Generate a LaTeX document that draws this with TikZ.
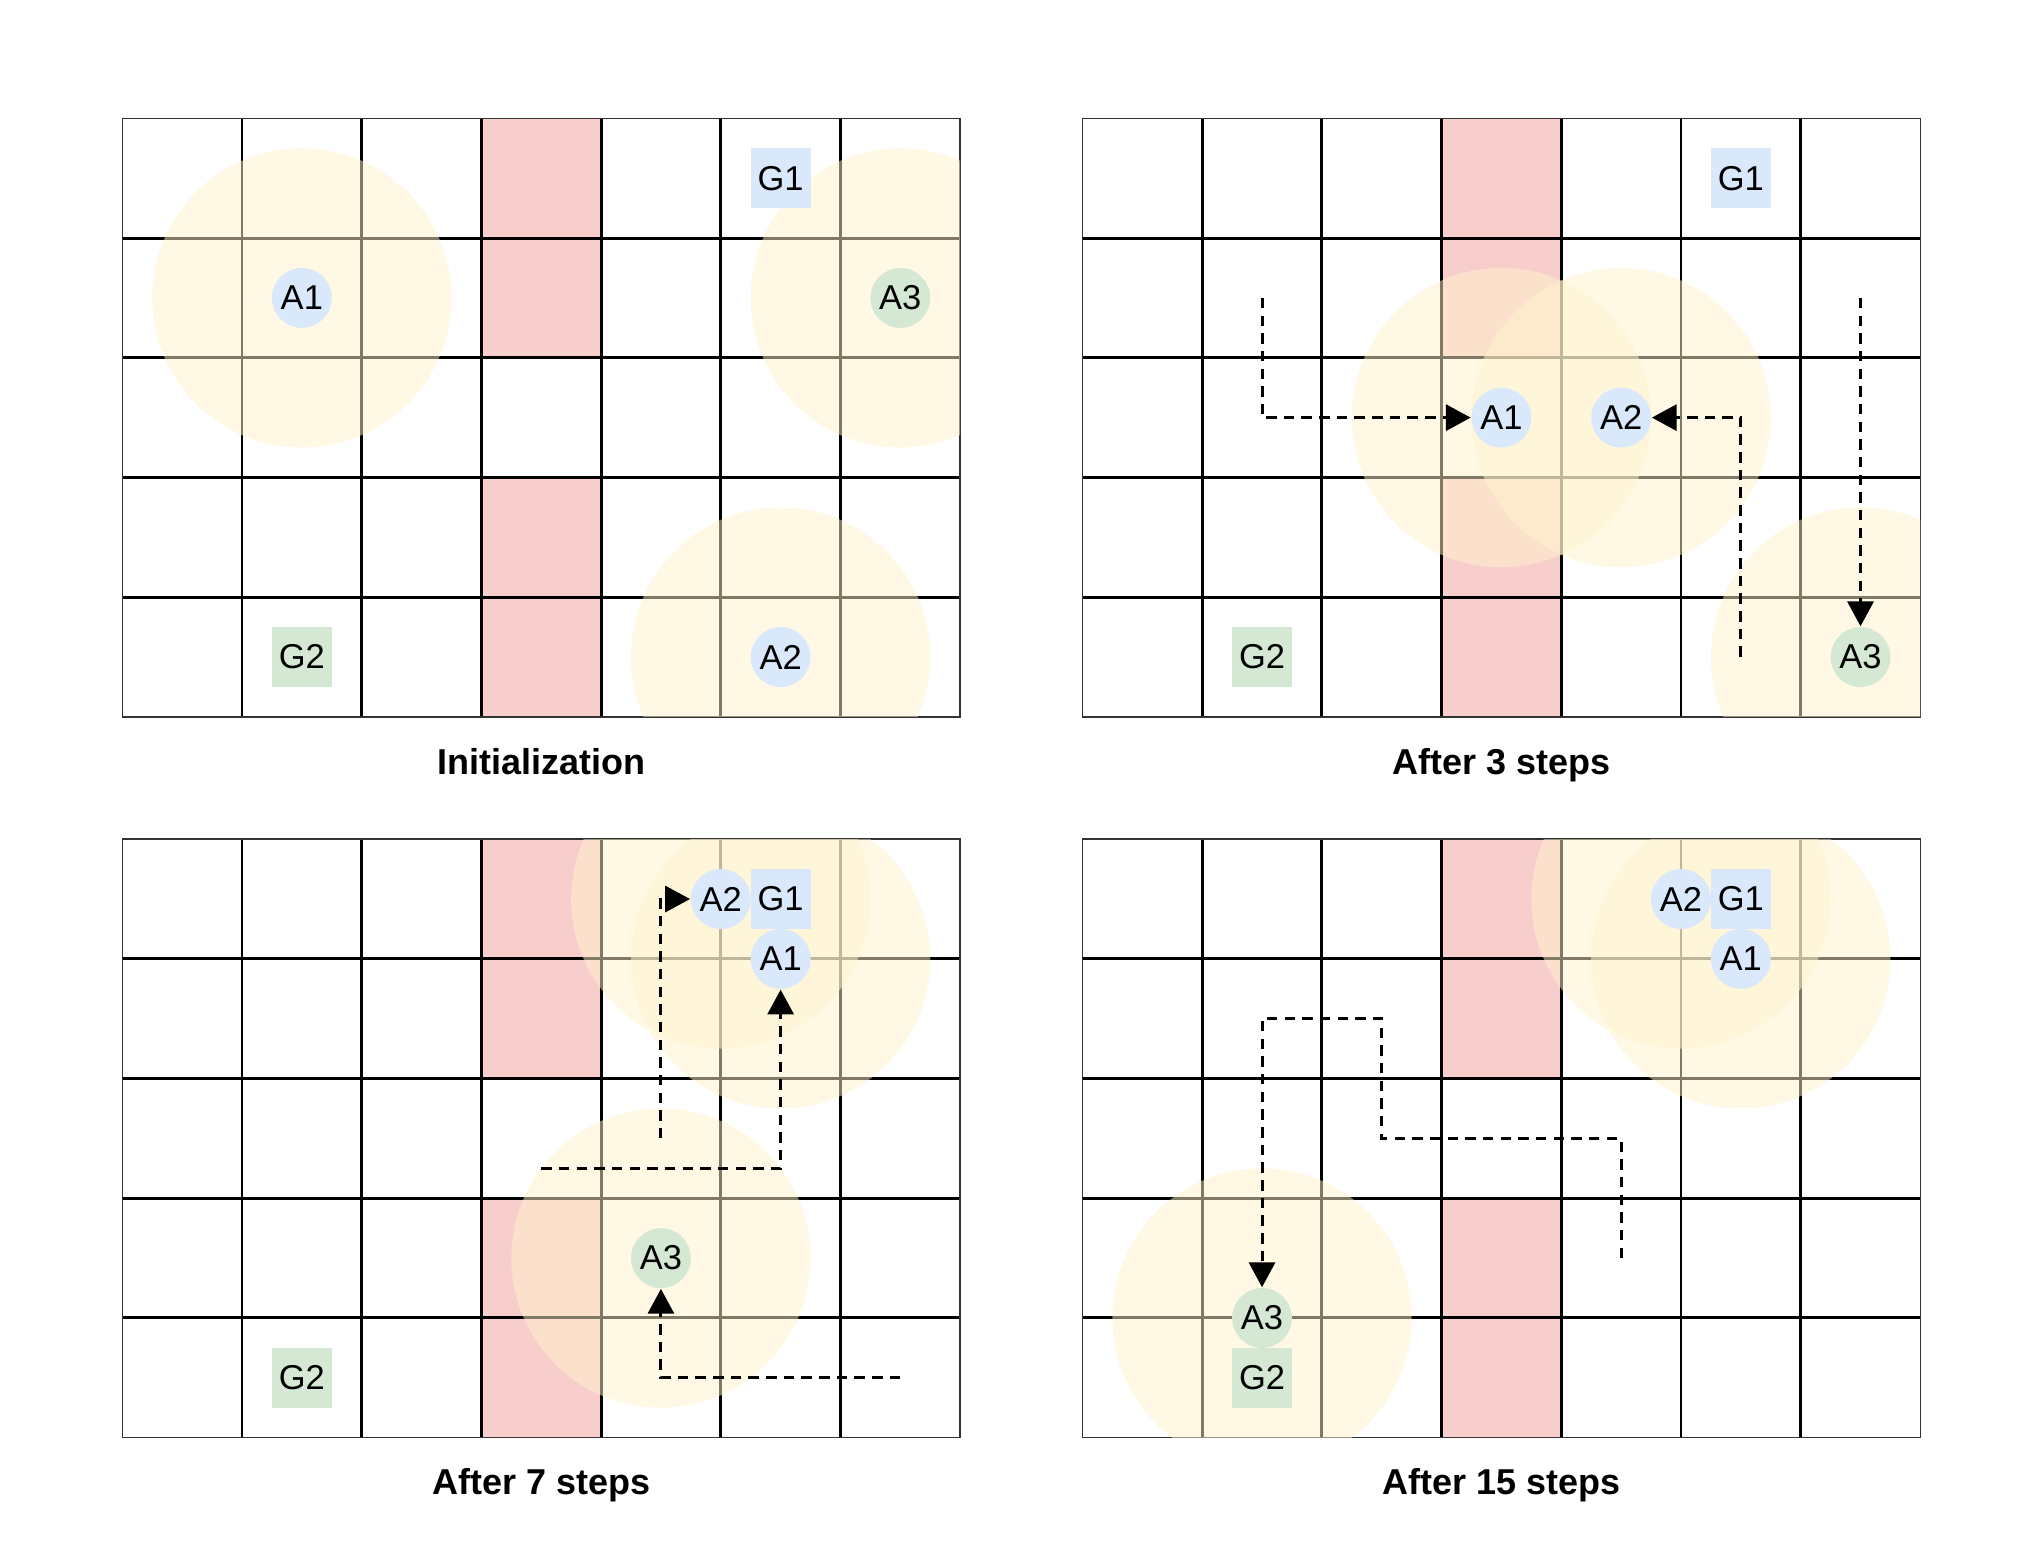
\documentclass[tikz,border=0pt]{standalone}
\usepackage{fontspec}
\setmainfont{Liberation Sans}
\usetikzlibrary{arrows.meta}
\definecolor{obst}{HTML}{F8CECC}
\definecolor{fov}{HTML}{FFF2CC}
\definecolor{agblue}{HTML}{DAE8FC}
\definecolor{aggreen}{HTML}{D5E8D4}
\tikzset{
  agent/.style={circle, minimum size=0.5cm, inner sep=0pt, font=\fontsize{8.2}{9}\selectfont},
  goal/.style={rectangle, minimum size=0.5cm, inner sep=0pt, font=\fontsize{8.2}{9}\selectfont},
  fovc/.style={fill=fov, fill opacity=0.5},
  gridline/.style={line width=0.7pt, black},
  border/.style={line width=0.35pt, black!80},
  movepath/.style={dash pattern=on 2.5pt off 1.7pt, line width=0.7pt, black,
    -{Triangle[length=5.9pt,width=6.2pt]}},
  caption/.style={font=\bfseries\fontsize{8.55}{10}\selectfont, anchor=base},
  panelgrid/.pic={
    \foreach \r in {0,1,3,4} \fill[obst] (3,-\r) rectangle (4,{-\r-1});
    \foreach \x in {1,...,6} \draw[gridline] (\x,0) -- (\x,-5);
    \foreach \y in {1,...,4} \draw[gridline] (0,-\y) -- (7,-\y);
    \draw[border] (0,0) rectangle (7,-5);
  }
}
\begin{document}
\begin{tikzpicture}
\useasboundingbox (0,0) rectangle (17.043,-13.054);

% ---------------- Panel 1: Initialization ----------------
\begin{scope}[shift={(1.0217,-0.9891)}]
  \pic {panelgrid};
  \begin{scope}
    \clip (0,0) rectangle (7,-5);
    \fill[fovc] (1.5,-1.5) circle (1.25);
    \fill[fovc] (6.5,-1.5) circle (1.25);
    \fill[fovc] (5.5,-4.5) circle (1.25);
  \end{scope}
  \node[goal, fill=agblue] (p1g1) at (5.5,-0.5) {G1};
  \node[goal, fill=aggreen] (p1g2) at (1.5,-4.5) {G2};
  \node[agent, fill=agblue] (p1a1) at (1.5,-1.5) {A1};
  \node[agent, fill=aggreen] (p1a3) at (6.5,-1.5) {A3};
  \node[agent, fill=agblue] (p1a2) at (5.5,-4.5) {A2};
  \node[caption] (p1cap) at (3.5,-5.478) {Initialization};
\end{scope}

% ---------------- Panel 2: After 3 steps ----------------
\begin{scope}[shift={(9.0435,-0.9891)}]
  \pic {panelgrid};
  \begin{scope}
    \clip (0,0) rectangle (7,-5);
    \fill[fovc] (3.5,-2.5) circle (1.25);
    \fill[fovc] (4.5,-2.5) circle (1.25);
    \fill[fovc] (6.5,-4.5) circle (1.25);
  \end{scope}
  \node[goal, fill=agblue] (p2g1) at (5.5,-0.5) {G1};
  \node[goal, fill=aggreen] (p2g2) at (1.5,-4.5) {G2};
  \node[agent, fill=agblue] (p2a1) at (3.5,-2.5) {A1};
  \node[agent, fill=agblue] (p2a2) at (4.5,-2.5) {A2};
  \node[agent, fill=aggreen] (p2a3) at (6.5,-4.5) {A3};
  \coordinate (p2s1) at (1.5,-1.5);
  \coordinate (p2s2) at (5.5,-4.5);
  \coordinate (p2s3) at (6.5,-1.5);
  \draw[movepath] (p2s1) |- (p2a1);
  \draw[movepath] (p2s2) |- (p2a2);
  \draw[movepath] (p2s3) -- (p2a3);
  \node[caption] (p2cap) at (3.5,-5.478) {After 3 steps};
\end{scope}

% ---------------- Panel 3: After 7 steps ----------------
\begin{scope}[shift={(1.0217,-7.0109)}]
  \pic {panelgrid};
  \begin{scope}
    \clip (0,0) rectangle (7,-5);
    \fill[fovc] (5.0,-0.5) circle (1.25);
    \fill[fovc] (5.5,-1.0) circle (1.25);
    \fill[fovc] (4.5,-3.5) circle (1.25);
  \end{scope}
  \node[goal, fill=agblue] (p3g1) at (5.5,-0.5) {G1};
  \node[goal, fill=aggreen] (p3g2) at (1.5,-4.5) {G2};
  \node[agent, fill=agblue] (p3a2) at (5.0,-0.5) {A2};
  \node[agent, fill=agblue] (p3a1) at (5.5,-1.0) {A1};
  \node[agent, fill=aggreen] (p3a3) at (4.5,-3.5) {A3};
  \coordinate (p3s2) at (4.5,-2.5);
  \coordinate (p3s1) at (3.5,-2.75);
  \coordinate (p3s3) at (6.5,-4.5);
  \draw[movepath] (p3s2) |- (p3a2);
  \draw[movepath] (p3s1) -| (p3a1);
  \draw[movepath] (p3s3) -| (p3a3);
  \node[caption] (p3cap) at (3.5,-5.478) {After 7 steps};
\end{scope}

% ---------------- Panel 4: After 15 steps ----------------
\begin{scope}[shift={(9.0435,-7.0109)}]
  \pic {panelgrid};
  \begin{scope}
    \clip (0,0) rectangle (7,-5);
    \fill[fovc] (5.0,-0.5) circle (1.25);
    \fill[fovc] (5.5,-1.0) circle (1.25);
    \fill[fovc] (1.5,-4.0) circle (1.25);
  \end{scope}
  \node[goal, fill=agblue] (p4g1) at (5.5,-0.5) {G1};
  \node[goal, fill=aggreen] (p4g2) at (1.5,-4.5) {G2};
  \node[agent, fill=agblue] (p4a2) at (5.0,-0.5) {A2};
  \node[agent, fill=agblue] (p4a1) at (5.5,-1.0) {A1};
  \node[agent, fill=aggreen] (p4a3) at (1.5,-4.0) {A3};
  \coordinate (p4s3) at (4.5,-3.5);
  \coordinate (p4k1) at (4.5,-2.5);
  \coordinate (p4k2) at (2.5,-2.5);
  \coordinate (p4k3) at (2.5,-1.5);
  \coordinate (p4k4) at (1.5,-1.5);
  \draw[movepath] (p4s3) -- (p4k1) -- (p4k2) -- (p4k3) -- (p4k4) -- (p4a3);
  \node[caption] (p4cap) at (3.5,-5.478) {After 15 steps};
\end{scope}
\end{tikzpicture}
\end{document}
